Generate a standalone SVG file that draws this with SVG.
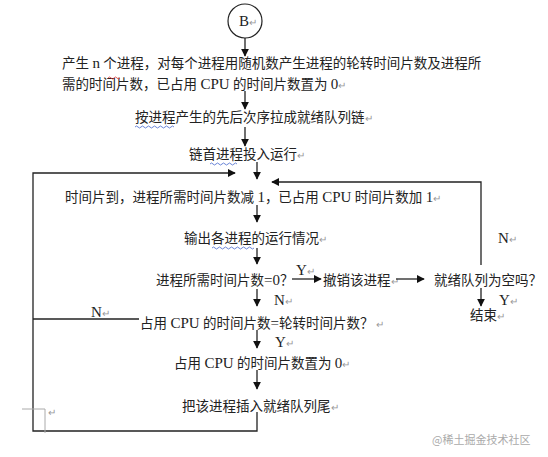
<svg xmlns="http://www.w3.org/2000/svg" width="548" height="457" viewBox="0 0 548 457">
<defs>
<style>
.t{font-family:"Liberation Serif","Noto Sans CJK SC",serif;font-size:13.5px;fill:#222}
.e{font-size:15px}
.p{fill:#999;font-size:10px}
.l{stroke:#222;stroke-width:1.3;fill:none}
.g{stroke:#aaa;stroke-width:1;fill:none}
.w{font-family:"Noto Sans CJK SC",sans-serif;font-size:11px;fill:#aaa}
</style>
<marker id="a" viewBox="0 0 10 10" refX="9" refY="5" markerWidth="8" markerHeight="8" markerUnits="userSpaceOnUse" orient="auto"><path d="M0,0 L10,5 L0,10 z" fill="#111"/></marker>
</defs>
<rect width="548" height="457" fill="#fff"/>
<g id="start"><circle cx="245" cy="21" r="17" fill="#fff" stroke="#222" stroke-width="1.2"/><text class="t" x="239" y="26"><tspan class="e">B</tspan><tspan class="p">↵</tspan></text></g>
<g id="n1"><text class="t" x="62" y="68">产生 <tspan class="e">n</tspan> 个进程，对每个进程用随机数产生进程的轮转时间片数及进程所</text><text class="t" x="62" y="89">需的时间片数，已占用 <tspan class="e">CPU</tspan> 的时间片数置为 <tspan class="e">0</tspan><tspan class="p">↵</tspan></text></g>
<g id="n2"><text class="t" x="135" y="122">按进程产生的先后次序拉成就绪队列链<tspan class="p">↵</tspan></text></g>
<g id="n3"><text class="t" x="189" y="159">链首进程投入运行<tspan class="p">↵</tspan></text></g>
<g id="n4"><text class="t" x="65" y="202">时间片到，进程所需时间片数减 <tspan class="e">1</tspan>，已占用 <tspan class="e">CPU</tspan> 时间片数加 <tspan class="e">1</tspan><tspan class="p">↵</tspan></text></g>
<g id="n5"><text class="t" x="184" y="243">输出各进程的运行情况<tspan class="p">↵</tspan></text></g>
<g id="n6"><text class="t" x="156" y="285">进程所需时间片数<tspan class="e">=0</tspan>？</text></g>
<g id="n7"><text class="t" x="323" y="285">撤销该进程<tspan class="p">↵</tspan></text></g>
<g id="n8"><text class="t" x="434" y="285">就绪队列为空吗？</text></g>
<g id="n9"><text class="t" x="470" y="320">结束<tspan class="p">↵</tspan></text></g>
<g id="n10"><text class="t" x="140" y="328">占用 <tspan class="e">CPU</tspan> 的时间片数<tspan class="e">=</tspan>轮转时间片数？<tspan class="p"> ↵</tspan></text></g>
<g id="n11"><text class="t" x="174" y="368">占用 <tspan class="e">CPU</tspan> 的时间片数置为 <tspan class="e">0</tspan><tspan class="p">↵</tspan></text></g>
<g id="n12"><text class="t" x="182" y="411">把该进程插入就绪队列尾<tspan class="p">↵</tspan></text></g>
<g id="connectors">
<line class="l" x1="245" y1="38" x2="245" y2="56" marker-end="url(#a)"/>
<line class="l" x1="245" y1="91" x2="245" y2="109" marker-end="url(#a)"/>
<line class="l" x1="245" y1="127" x2="245" y2="146" marker-end="url(#a)"/>
<line class="l" x1="257" y1="162" x2="257" y2="179" marker-end="url(#a)"/>
<polyline class="l" points="257,412 257,431 33,431 33,173 235,173" marker-end="url(#a)"/>
<polyline class="l" points="481,265 481,182 272,182" marker-end="url(#a)"/>
<line class="l" x1="257" y1="205" x2="257" y2="222" marker-end="url(#a)"/>
<line class="l" x1="257" y1="248" x2="257" y2="264" marker-end="url(#a)"/>
<line class="l" x1="292" y1="279" x2="321" y2="279" marker-end="url(#a)"/>
<line class="l" x1="396" y1="279" x2="424" y2="279" marker-end="url(#a)"/>
<line class="l" x1="481" y1="288" x2="481" y2="306" marker-end="url(#a)"/>
<line class="l" x1="257" y1="289" x2="257" y2="306" marker-end="url(#a)"/>
<line class="l" x1="33" y1="319" x2="139" y2="319"/>
<line class="l" x1="257" y1="330" x2="257" y2="348" marker-end="url(#a)"/>
<line class="l" x1="257" y1="370" x2="257" y2="389" marker-end="url(#a)"/>
</g>
<g id="labels">
<text class="t" x="296" y="275"><tspan class="e">Y</tspan><tspan class="p">↵</tspan></text>
<text class="t" x="498" y="243"><tspan class="e">N</tspan><tspan class="p">↵</tspan></text>
<text class="t" x="499" y="305"><tspan class="e">Y</tspan><tspan class="p">↵</tspan></text>
<text class="t" x="274" y="305"><tspan class="e">N</tspan><tspan class="p">↵</tspan></text>
<text class="t" x="91" y="317"><tspan class="e">N</tspan><tspan class="p">↵</tspan></text>
<text class="t" x="275" y="347"><tspan class="e">Y</tspan><tspan class="p">↵</tspan></text>
</g>
<g id="marks">
<polyline class="g" points="22,409 45,409 45,433"/>
<text class="p" x="48" y="416" style="font-family:'Liberation Serif',serif">↵</text>
<path d="M108,78 q1.5,-2 3,0 t3,0 t3,0 t3,0" stroke="#d33" stroke-width="0.8" fill="none"/>
<path d="M135,127 q1.5,-2 3,0 t3,0 t3,0 t3,0 t3,0 t3,0 t3,0 t3,0 t3,0 t3,0 t3,0 t3,0 t3,0" stroke="#46c" stroke-width="0.8" fill="none"/>
<path d="M210,164 q1.5,-2 3,0 t3,0 t3,0 t3,0 t3,0 t3,0 t3,0 t3,0 t3,0" stroke="#46c" stroke-width="0.8" fill="none"/>
<path d="M212,248 q1.5,-2 3,0 t3,0 t3,0 t3,0 t3,0 t3,0 t3,0 t3,0 t3,0 t3,0 t3,0 t3,0 t3,0 t3,0" stroke="#46c" stroke-width="0.8" fill="none"/>
</g>
<text class="w" x="432" y="444">@稀土掘金技术社区</text>
</svg>
